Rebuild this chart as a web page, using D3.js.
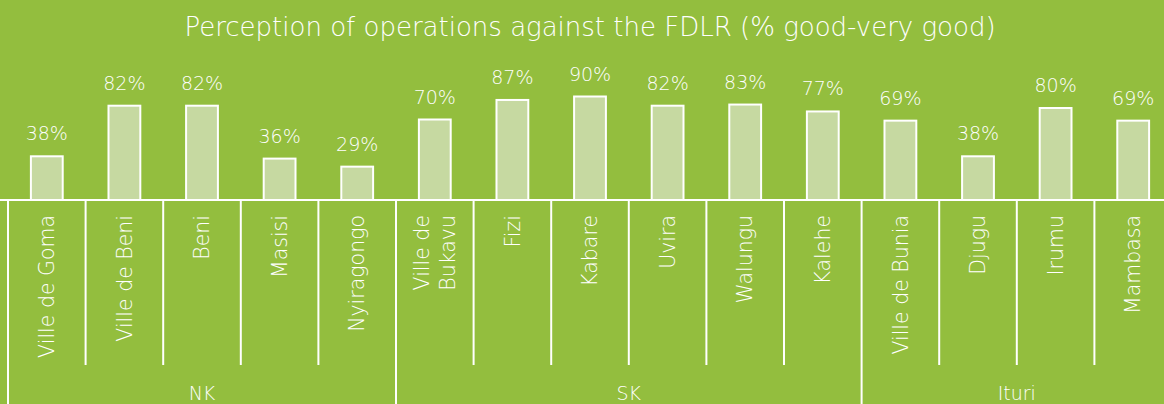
<!DOCTYPE html>
<html>
<head>
<meta charset="utf-8">
<script src="https://cdn.jsdelivr.net/npm/d3@7"></script>
<style>
  body { margin: 0; background: #93be3e; }
  svg text { font-family: "Century Gothic", "DejaVu Sans", sans-serif; fill: #fff; font-weight: 200; }
</style>
</head>
<body>
<div id="chart"></div>
<script>
// data
const places = ['Ville de Goma', 'Ville de Beni', 'Beni', 'Masisi', 'Nyiragongo',
  'Ville de Bukavu', 'Fizi', 'Kabare', 'Uvira', 'Walungu', 'Kalehe',
  'Ville de Bunia', 'Djugu', 'Irumu', 'Mambasa']
const provinceOf = ['NK', 'NK', 'NK', 'NK', 'NK',
  'SK', 'SK', 'SK', 'SK', 'SK', 'SK',
  'Ituri', 'Ituri', 'Ituri', 'Ituri']
const provinces = ['NK', 'SK', 'Ituri']
const pctGood = [38, 82, 82, 36, 29, 70, 87, 90, 82, 83, 77, 69, 38, 80, 69]

const width = 1164
const height = 404
const baseY = 200

const svg = d3.select('#chart')
  .append('svg')
  .attr('width', width)
  .attr('height', height)

svg.append('rect')
  .attr('width', width)
  .attr('height', height)
  .attr('fill', '#93be3e')

const x = d3.scaleBand()
  .domain(places)
  .range([8, 1172])
  .padding(0)

const y = d3.scaleLinear()
  .domain([0, 100])
  .range([baseY, 85])

const barW = x.bandwidth() * 0.41

svg.append('text')
  .attr('x', 590)
  .attr('y', 36)
  .attr('text-anchor', 'middle')
  .attr('font-size', 26)
  .text('Perception of operations against the FDLR (% good-very good)')

// bars
svg.selectAll('.bar')
  .data(places)
  .join('rect')
  .attr('class', 'bar')
  .attr('x', d => x(d) + x.bandwidth() / 2 - barW / 2)
  .attr('width', barW)
  .attr('y', (d, i) => y(pctGood[i]))
  .attr('height', (d, i) => baseY - y(pctGood[i]))
  .attr('fill', '#c6d9a1')
  .attr('stroke', '#fff')
  .attr('stroke-width', 2)

svg.selectAll('.val')
  .data(places)
  .join('text')
  .attr('class', 'val')
  .attr('x', d => x(d) + x.bandwidth() / 2)
  .attr('y', (d, i) => y(pctGood[i]) - 16)
  .attr('text-anchor', 'middle')
  .attr('font-size', 19)
  .text((d, i) => pctGood[i] + '%')

// axis lines
const lines = svg.append('g')
  .attr('stroke', '#fff')
  .attr('stroke-width', 2)

lines.append('line')
  .attr('x1', 0).attr('x2', width)
  .attr('y1', baseY).attr('y2', baseY)

places.forEach((p, i) => {
  const first = i == 0 || provinceOf[i] != provinceOf[i - 1]
  lines.append('line')
    .attr('x1', x(p)).attr('x2', x(p))
    .attr('y1', baseY).attr('y2', first ? height : 365)
})

// category labels, rotated
const catLab = svg.selectAll('.cat')
  .data(places)
  .join('text')
  .attr('class', 'cat')
  .attr('transform', d => `translate(${x(d) + x.bandwidth() / 2},215) rotate(-90)`)
  .attr('text-anchor', 'end')
  .attr('font-size', 20.5)

catLab.each(function(d) {
  const el = d3.select(this)
  const parts = d == 'Ville de Bukavu' ? ['Ville de', 'Bukavu'] : [d]
  const lh = 26
  parts.forEach((t, j) => {
    el.append('tspan')
      .attr('x', 0)
      .attr('y', (j - (parts.length - 1) / 2) * lh)
      .attr('dy', '0.35em')
      .text(t)
  })
})

// province labels
provinces.forEach(pv => {
  const idx = provinceOf.map((d, i) => d == pv ? i : -1).filter(i => i >= 0)
  const x0 = x(places[idx[0]])
  const x1 = x(places[idx[idx.length - 1]]) + x.bandwidth()
  svg.append('text')
    .attr('x', (x0 + x1) / 2)
    .attr('y', 400)
    .attr('text-anchor', 'middle')
    .attr('font-size', 19)
    .text(pv)
})
</script>
</body>
</html>
